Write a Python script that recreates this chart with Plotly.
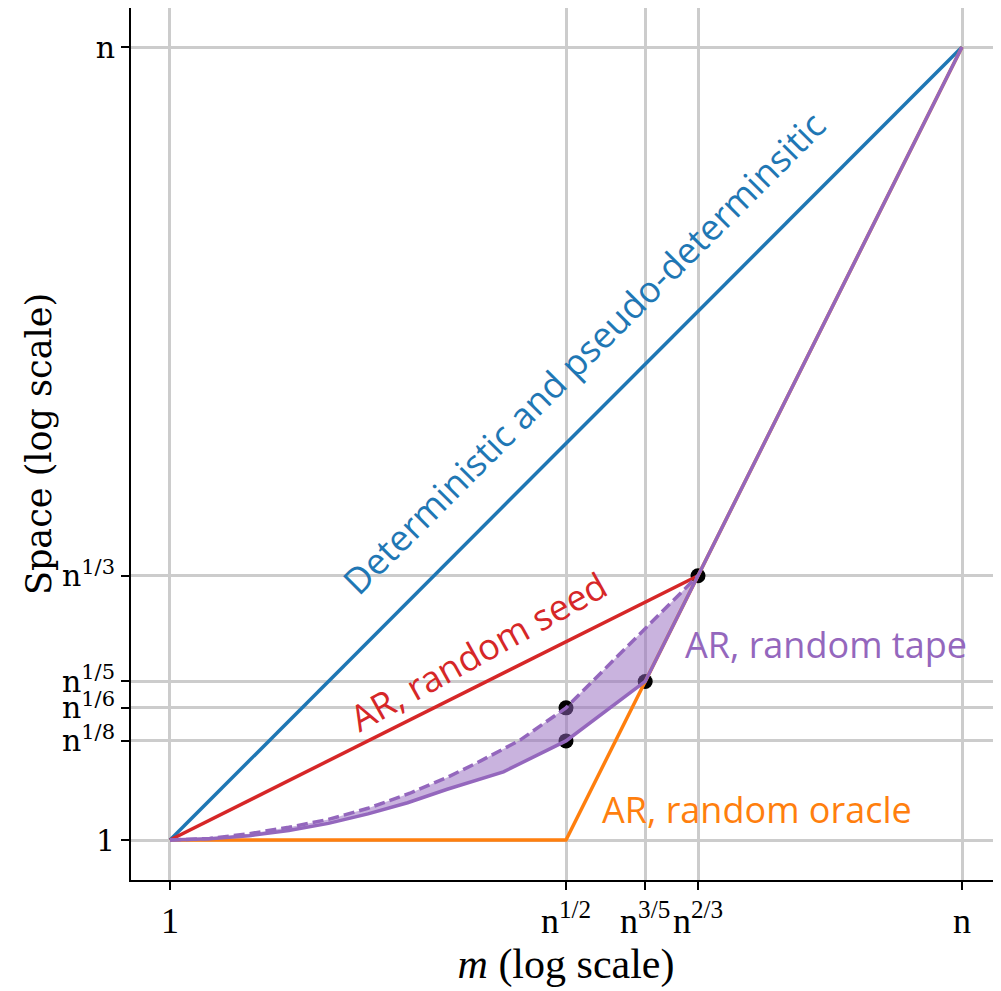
import plotly.graph_objects as go

# ---- data (exponents of n, log scale) ----
m_tickvals = [0, 1/2, 3/5, 2/3, 1]
m_ticktext = ["1", "n<sup>1/2</sup>", "n<sup>3/5</sup>", "n<sup>2/3</sup>", "n"]
s_tickvals = [0, 1/8, 1/6, 1/5, 1/3, 1]
s_ticktext = ["1", "n<sup>1/8</sup>", "n<sup>1/6</sup>", "n<sup>1/5</sup>", "n<sup>1/3</sup>", "n"]

det_x = [0, 1]
det_y = [0, 1]
seed_x = [0, 2/3]
seed_y = [0, 1/3]
oracle_x = [0, 1/2, 3/5, 2/3, 1]
oracle_y = [0, 0, 1/5, 1/3, 1]
tape_lo_x = [0, 0.05, 0.1, 0.15, 0.2, 0.25, 0.3, 0.35, 0.421, 0.5, 0.6, 2/3, 1]
tape_lo_y = [0, 0.0015, 0.0055, 0.012, 0.021, 0.033, 0.047, 0.064, 0.086, 0.125, 0.2, 1/3, 1]
tape_hi_x = [0, 0.05, 0.1, 0.15, 0.2, 0.25, 0.303, 0.35, 0.387, 0.442, 0.5, 2/3]
tape_hi_y = [0, 0.002, 0.008, 0.016, 0.026, 0.040, 0.059, 0.079, 0.097, 0.126, 1/6, 1/3]
pts_x = [1/2, 1/2, 3/5, 2/3]
pts_y = [1/8, 1/6, 1/5, 1/3]

BLUE = "#1f77b4"
RED = "#d62728"
ORANGE = "#ff7f0e"
PURPLE = "#9467bd"
LW = 3.5

fig = go.Figure()

# markers (beneath lines)
fig.add_trace(go.Scatter(x=pts_x, y=pts_y, mode="markers",
                         marker=dict(color="black", size=15), hoverinfo="skip"))

# shaded region between dashed and solid tape curves
lo_part_x = [x for x in tape_lo_x if x <= 2/3 + 1e-9]
lo_part_y = tape_lo_y[:len(lo_part_x)]
fig.add_trace(go.Scatter(x=tape_hi_x + lo_part_x[::-1], y=tape_hi_y + lo_part_y[::-1],
                         fill="toself", fillcolor="rgba(148,103,189,0.5)",
                         line=dict(width=0), mode="lines", hoverinfo="skip"))

fig.add_trace(go.Scatter(x=det_x, y=det_y, mode="lines", line=dict(color=BLUE, width=LW)))
fig.add_trace(go.Scatter(x=oracle_x, y=oracle_y, mode="lines", line=dict(color=ORANGE, width=LW)))
fig.add_trace(go.Scatter(x=seed_x, y=seed_y, mode="lines", line=dict(color=RED, width=LW)))
fig.add_trace(go.Scatter(x=tape_hi_x, y=tape_hi_y, mode="lines",
                         line=dict(color=PURPLE, width=LW, dash="11px,5px")))
fig.add_trace(go.Scatter(x=tape_lo_x, y=tape_lo_y, mode="lines", line=dict(color=PURPLE, width=LW)))

ann_font = "Open Sans"
AS = 36
fig.add_annotation(x=0.5215, y=0.614, text="Deterministic and pseudo-determinsitic",
                   textangle=-45, showarrow=False, xanchor="center", yanchor="middle",
                   font=dict(family=ann_font, size=AS, color=BLUE))
fig.add_annotation(x=0.389, y=0.238, text="AR, random seed",
                   textangle=-29, showarrow=False, xanchor="center", yanchor="middle",
                   font=dict(family=ann_font, size=AS, color=RED))
fig.add_annotation(x=0.828, y=0.246, text="AR, random tape",
                   showarrow=False, xanchor="center", yanchor="middle",
                   font=dict(family=ann_font, size=AS, color=PURPLE))
fig.add_annotation(x=0.741, y=0.038, text="AR, random oracle",
                   showarrow=False, xanchor="center", yanchor="middle",
                   font=dict(family=ann_font, size=AS, color=ORANGE))

fig.update_layout(
    width=993, height=983,
    margin=dict(l=123, r=0, t=0, b=111),
    plot_bgcolor="white", paper_bgcolor="white",
    showlegend=False,
    xaxis=dict(
        range=[-0.0492, 1.0492], tickvals=m_tickvals, ticktext=m_ticktext,
        automargin=False,
        showgrid=True, gridcolor="#cccccc", gridwidth=3, zeroline=False,
        showline=True, linecolor="black", linewidth=2, mirror=True,
        ticks="outside", ticklen=8, tickwidth=1.5, tickcolor="black",
        tickfont=dict(family="Liberation Serif", size=36, color="black"),
        title=dict(text="<i>m</i> (log scale)", standoff=6,
                   font=dict(family="Liberation Serif", size=42, color="black")),
    ),
    yaxis=dict(
        range=[-0.0504, 1.0492], tickvals=s_tickvals, ticktext=s_ticktext,
        automargin=False,
        showgrid=True, gridcolor="#cccccc", gridwidth=3, zeroline=False,
        showline=True, linecolor="black", linewidth=2, mirror=False,
        ticks="outside", ticklen=8, tickwidth=1.5, tickcolor="black",
        tickfont=dict(family="DejaVu Serif", size=30, color="black"),
        title=dict(text="Space (log scale)", standoff=0,
                   font=dict(family="DejaVu Serif", size=35, color="black")),
    ),
)

fig.write_html("out.html")
